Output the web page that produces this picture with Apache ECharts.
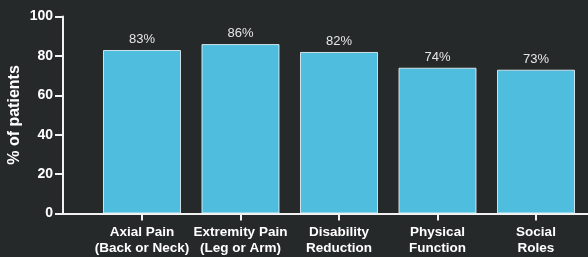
<!DOCTYPE html>
<html>
<head>
<meta charset="utf-8">
<script src="https://cdn.jsdelivr.net/npm/echarts@6/dist/echarts.min.js"></script>
<style>
  html, body { margin: 0; padding: 0; background: #252929; }
  #chart { width: 588px; height: 257px; }
</style>
</head>
<body>
<div id="chart"></div>
<script>
const categories = [
  "Axial Pain\n(Back or Neck)",
  "Extremity Pain\n(Leg or Arm)",
  "Disability\nReduction",
  "Physical\nFunction",
  "Social\nRoles"
];
const values = [83, 86, 82, 74, 73];
const yMin = 0, yMax = 100, yStep = 20;
const yTitle = "% of patients";

const font = "Liberation Sans, Arial, sans-serif";
const chart = echarts.init(document.getElementById('chart'), null, { renderer: 'canvas' });
const idx = categories.map((c, i) => i);

chart.setOption({
  backgroundColor: '#252929',
  animation: false,
  grid: { left: 63, right: 0, top: 16.5, bottom: 43.5, containLabel: false, outerBoundsMode: 'none' },
  xAxis: {
    type: 'value',
    min: -0.802,
    max: 4.528,
    splitLine: { show: false },
    axisLine: { show: true, onZero: false, lineStyle: { color: '#f2f2f2', width: 2 } },
    axisTick: { show: true, customValues: idx, length: 7, lineStyle: { color: '#f2f2f2', width: 2 } },
    axisLabel: {
      customValues: idx,
      formatter: v => categories[Math.round(v)],
      color: '#ffffff',
      fontFamily: font,
      fontWeight: 'bold',
      fontSize: 13.5,
      lineHeight: 15.6,
      margin: 11
    }
  },
  yAxis: {
    type: 'value',
    min: yMin, max: yMax, interval: yStep,
    name: yTitle,
    nameLocation: 'middle',
    nameRotate: 90,
    nameGap: 40,
    nameMoveOverlap: false,
    nameTextStyle: { color: '#ffffff', fontFamily: font, fontWeight: 'bold', fontSize: 16 },
    splitLine: { show: false },
    axisLine: { show: true, onZero: false, lineStyle: { color: '#f2f2f2', width: 2 } },
    axisTick: { show: true, length: 8, lineStyle: { color: '#f2f2f2', width: 2 } },
    axisLabel: { color: '#ffffff', fontFamily: font, fontWeight: 'bold', fontSize: 14, margin: 10 }
  },
  series: [{
    type: 'bar',
    data: values.map((v, i) => [i, v]),
    barWidth: 78,
    itemStyle: { color: '#4fbddd', borderColor: 'rgba(235,245,250,0.85)', borderWidth: 1 },
    label: {
      show: true,
      position: 'top',
      distance: 4,
      formatter: p => p.value[1] + '%',
      color: '#e6e6e6',
      fontFamily: font,
      fontSize: 13
    }
  }]
});
</script>
</body>
</html>
